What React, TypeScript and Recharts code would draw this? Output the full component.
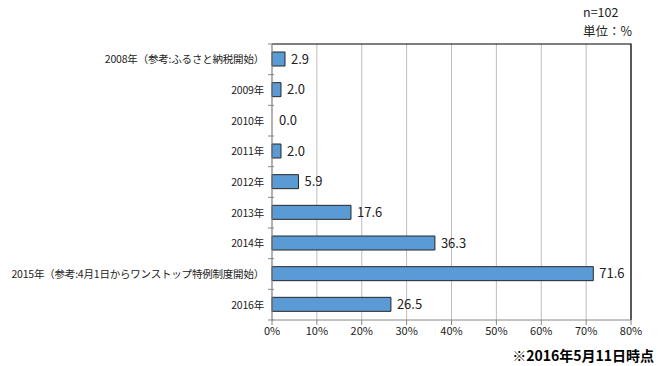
import { BarChart, Bar, XAxis, YAxis, CartesianGrid, LabelList, Cell, ReferenceArea } from 'recharts';

const categories = [
  '2008年（参考:ふるさと納税開始）',
  '2009年',
  '2010年',
  '2011年',
  '2012年',
  '2013年',
  '2014年',
  '2015年（参考:4月1日からワンストップ特例制度開始）',
  '2016年',
];
const values = [2.9, 2.0, 0.0, 2.0, 5.9, 17.6, 36.3, 71.6, 26.5];
const xTicks = [0, 10, 20, 30, 40, 50, 60, 70, 80];

const data = categories.map((name, i) => ({ name, value: values[i] }));

const font = '"Noto Sans CJK JP", "Noto Sans", sans-serif';
const W = 669;
const H = 366;
const margin = { top: 44, right: 38, bottom: 24, left: 0 };
const yAxisWidth = 272;
const xAxisHeight = 22;
const plotH = H - margin.top - margin.bottom - xAxisHeight;
const plotW = W - margin.left - margin.right - yAxisWidth;
const band = plotH / categories.length;
// only the top and right edges of the frame are drawn black
const frameDash = `${plotW + plotH} ${plotW + plotH}`;

function YTick(props: any) {
  const { x, y, payload } = props;
  return (
    <g>
      <line x1={x + 4} x2={x + 10} y1={y + band / 2} y2={y + band / 2} stroke="#868686" />
      {payload.index === 0 ? (
        <line x1={x + 4} x2={x + 10} y1={y - band / 2} y2={y - band / 2} stroke="#868686" />
      ) : null}
      <text x={x} y={y} dy={4} textAnchor="end" fontSize={10.5} letterSpacing={-0.2} fill="#222" fontFamily={font}>
        {payload.value}
      </text>
    </g>
  );
}

export default function App() {
  return (
    <div style={{ position: 'absolute', left: 0, top: 0, width: W, height: H, background: '#fff', fontFamily: font }}>
      <div style={{ position: 'absolute', left: 583, top: 2, fontSize: 12.5, color: '#222' }}>n=102</div>
      <div style={{ position: 'absolute', left: 583, top: 21, fontSize: 12.5, color: '#222' }}>単位：%</div>
      <BarChart
        width={W}
        height={H}
        data={data}
        layout="vertical"
        margin={margin}
        barSize={14}
      >
        <CartesianGrid horizontal={false} vertical stroke="#bdbdbd" />
        <ReferenceArea
          x1={0}
          x2={80}
          stroke="#000"
          strokeWidth={1.2}
          strokeDasharray={frameDash}
          fill="none"
          fillOpacity={0}
        />
        <Bar
          dataKey="value"
          fill="#5b9bd5"
          stroke="#262626"
          strokeWidth={1}
          minPointSize={(v: any) => (v === 0 ? 1 : 0)}
          isAnimationActive={false}
        >
          {values.map((v, i) => (
            <Cell key={i} fill={v === 0 ? 'none' : '#5b9bd5'} stroke={v === 0 ? 'none' : '#262626'} />
          ))}
          <LabelList
            dataKey="value"
            position="right"
            offset={6}
            formatter={(v: any) => Number(v).toFixed(1)}
            style={{ fontSize: 13, fill: '#222', fontFamily: font }}
          />
        </Bar>
        <XAxis
          type="number"
          domain={[0, 80]}
          ticks={xTicks}
          tickFormatter={(v) => `${v}%`}
          height={xAxisHeight}
          stroke="#868686"
          tickSize={5}
          tick={{ fontSize: 11, fill: '#222', fontFamily: font }}
          interval={0}
        />
        <YAxis
          type="category"
          dataKey="name"
          width={yAxisWidth}
          stroke="#868686"
          tickLine={false}
          tick={<YTick />}
          interval={0}
        />
      </BarChart>
      <div style={{ position: 'absolute', right: 15, top: 345, fontSize: 14, fontWeight: 'bold', color: '#000' }}>
        ※2016年5月11日時点
      </div>
    </div>
  );
}
